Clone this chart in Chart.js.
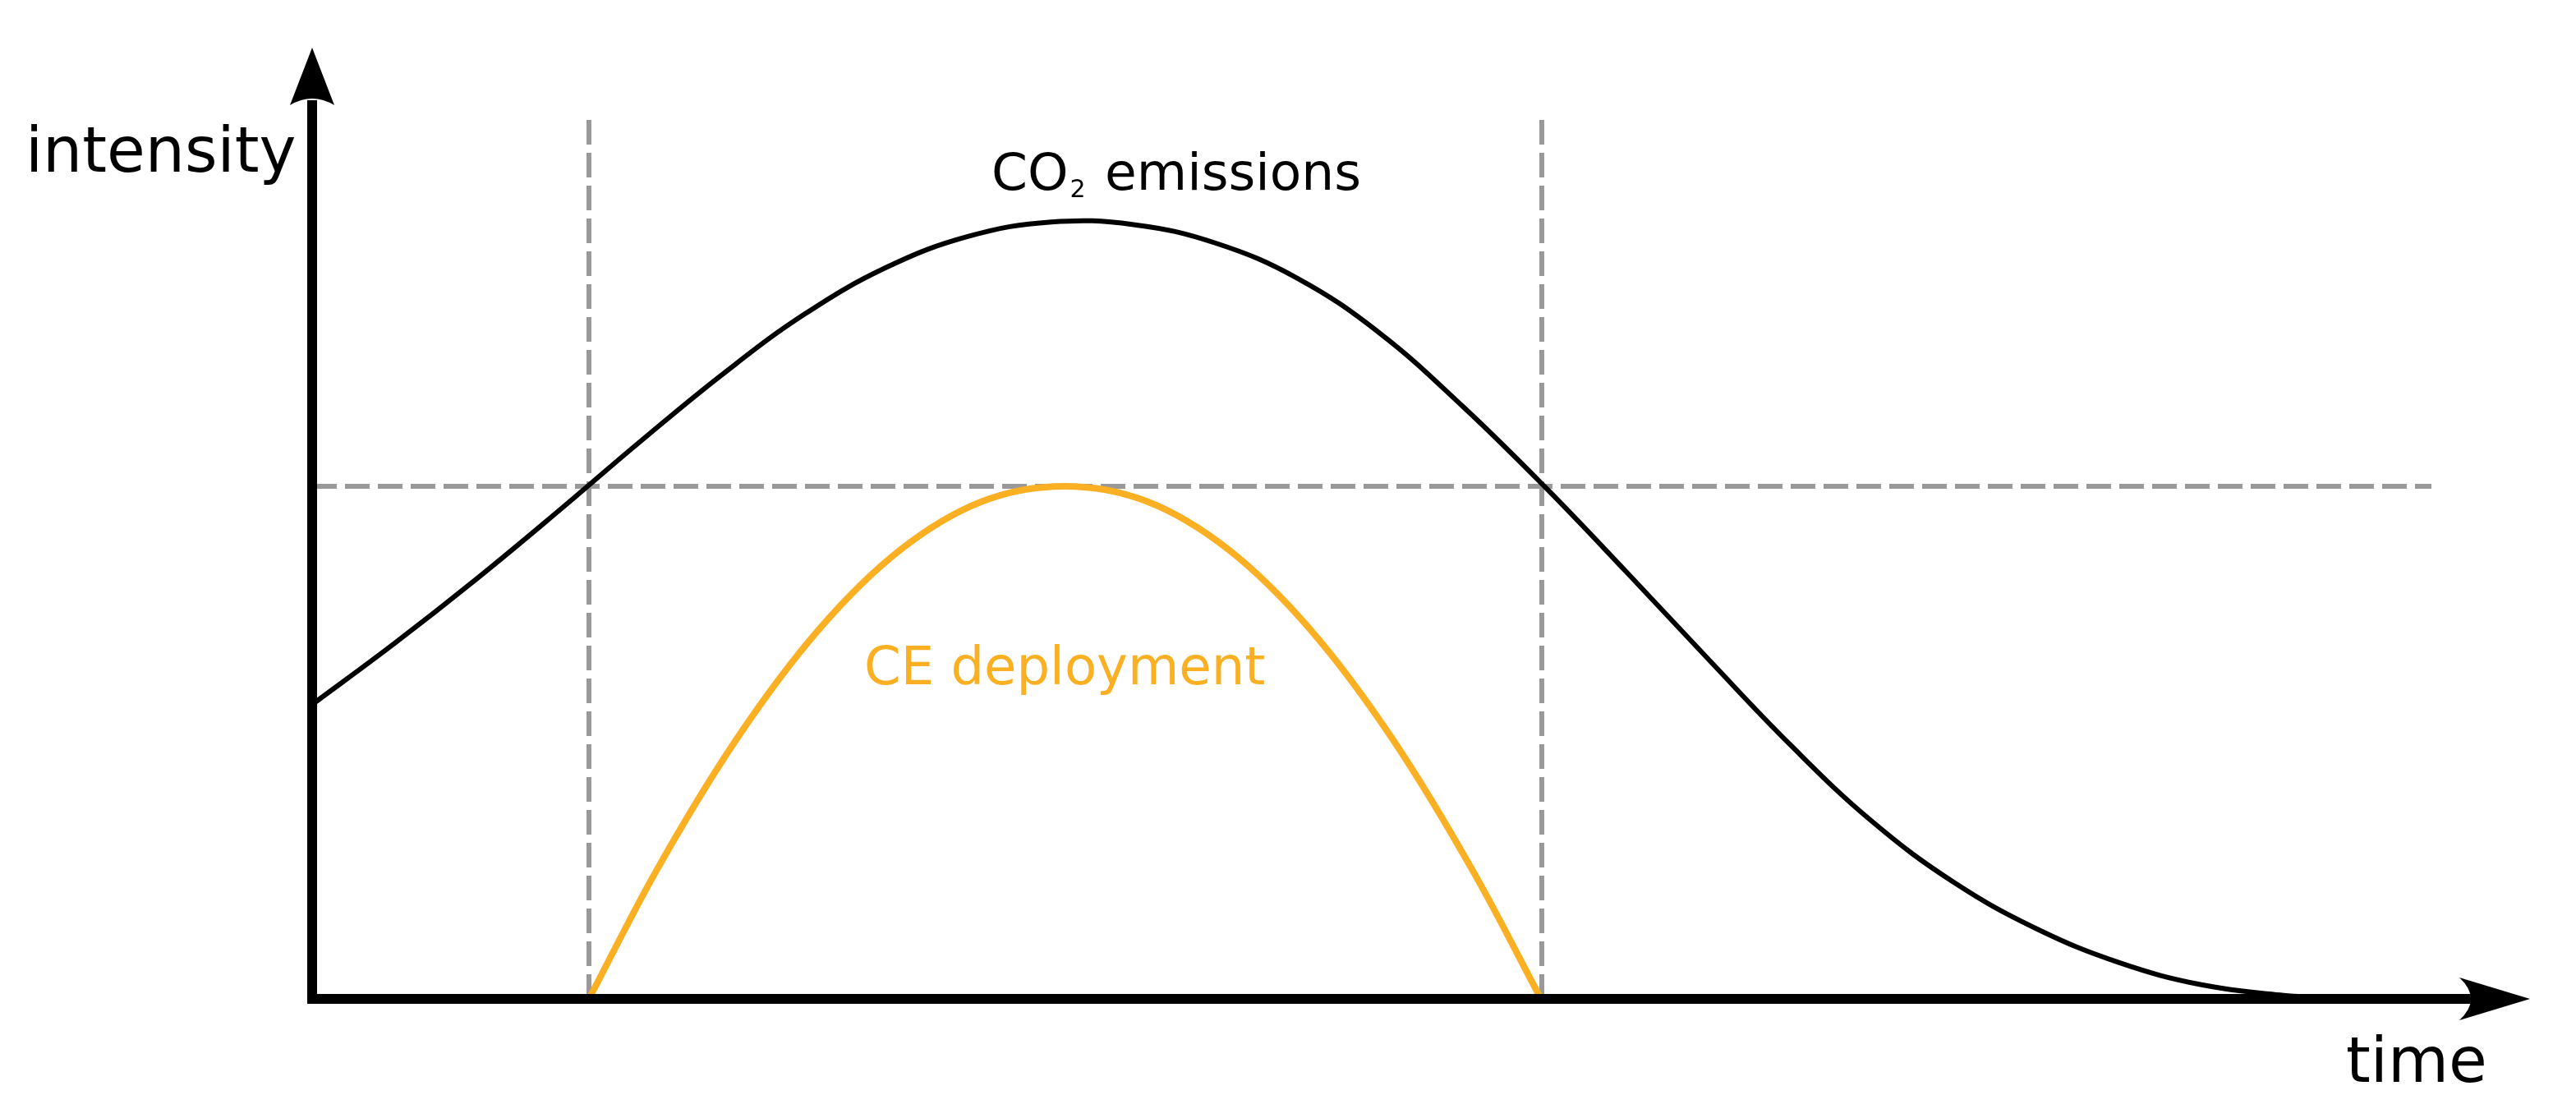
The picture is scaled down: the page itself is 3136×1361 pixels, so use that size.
<!DOCTYPE html>
<html>
<head>
<meta charset="utf-8">
<script src="https://cdn.jsdelivr.net/npm/chart.js@4.4.1/dist/chart.umd.min.js"></script>
<style>
  html, body { margin: 0; padding: 0; background: #fff; }
  #wrap { position: relative; width: 3136px; height: 1361px; }
</style>
</head>
<body>
<div id="wrap"><canvas id="chart"></canvas></div>
<script>
// CO2 emissions curve (time, intensity)
const emissionsTime = [0, 1, 2, 3, 4, 5, 6, 7, 8, 9, 10, 11, 12, 13, 14, 15, 16, 17, 18, 19, 20, 21, 22, 23, 24, 24.6]
const emissionsValue = [3.33, 4.02, 4.75, 5.52, 6.31, 7.07, 7.75, 8.28, 8.63, 8.79, 8.76, 8.55, 8.15, 7.53, 6.71, 5.80, 4.83, 3.84, 2.87, 2.00, 1.31, 0.79, 0.41, 0.16, 0.04, 0.01]

// CE deployment curve
const deploymentTime = [3.37, 4.16, 5.16, 6.16, 7.16, 8.16, 9.16, 10.16, 11.16, 12.16, 13.16, 14.16, 14.96]
const deploymentValue = [0, 1.40, 2.93, 4.17, 5.08, 5.63, 5.80, 5.63, 5.08, 4.17, 2.93, 1.40, 0]

// reference lines
const thresholdLevel = 5.80
const deploymentStart = 3.37
const deploymentEnd = 14.97
const thresholdEnd = 25.8

const xMax = 26
const yMax = 10

const toPoints = (xs, ys) => xs.map((x, i) => ({ x: x, y: ys[i] }))

const grey = '#999999'
const orange = '#fbb024'
const dash = [30, 10]

// axes with arrow heads + text labels
const annotate = {
  id: 'annotate',
  afterDatasetsDraw(chart) {
    const { ctx, chartArea } = chart
    const x0 = chartArea.left
    const y0 = chartArea.bottom
    ctx.save()
    ctx.fillStyle = '#000'
    ctx.strokeStyle = '#000'
    ctx.lineWidth = 12
    ctx.lineCap = 'butt'
    // y axis
    ctx.beginPath()
    ctx.moveTo(x0, y0 + 6)
    ctx.lineTo(x0, 122)
    ctx.stroke()
    // x axis
    ctx.beginPath()
    ctx.moveTo(x0 - 6, y0)
    ctx.lineTo(3013, y0)
    ctx.stroke()
    // arrow heads
    ctx.beginPath()
    ctx.moveTo(x0, 58)
    ctx.lineTo(x0 + 27, 128)
    ctx.quadraticCurveTo(x0, 112, x0 - 27, 128)
    ctx.closePath()
    ctx.fill()
    ctx.beginPath()
    ctx.moveTo(3080, y0)
    ctx.lineTo(2994, y0 + 26)
    ctx.quadraticCurveTo(3022, y0, 2994, y0 - 26)
    ctx.closePath()
    ctx.fill()

    // labels
    ctx.textBaseline = 'alphabetic'
    ctx.textAlign = 'left'
    ctx.font = '76px "DejaVu Sans"'
    ctx.fillText('intensity', 31, 209)
    ctx.fillText('time', 2856, 1317)

    ctx.font = '63px "DejaVu Sans"'
    ctx.fillText('CO', 1207, 231)
    let w = ctx.measureText('CO').width
    ctx.font = '30px "DejaVu Sans"'
    ctx.fillText('2', 1207 + w + 2, 240)
    ctx.font = '63px "DejaVu Sans"'
    ctx.fillText('emissions', 1345, 231)

    ctx.fillStyle = orange
    ctx.font = '64px "DejaVu Sans"'
    ctx.fillText('CE deployment', 1052, 833)
    ctx.restore()
  }
}

const curve = (label, xs, ys, color, width, smooth) => ({
  label: label,
  data: toPoints(xs, ys),
  borderColor: color,
  borderWidth: width,
  ...smooth,
  pointRadius: 0,
  clip: false,
  order: 1,
})

const refLine = (label, pts) => ({
  label: label,
  data: pts,
  borderColor: grey,
  borderWidth: 6,
  borderDash: dash,
  pointRadius: 0,
  tension: 0,
  clip: false,
  order: 3,
})

new Chart(document.getElementById('chart'), {
  type: 'line',
  data: {
    datasets: [
      curve('CO2 emissions', emissionsTime, emissionsValue, '#000', 6, { tension: 0.4 }),
      curve('CE deployment', deploymentTime, deploymentValue, orange, 8, { cubicInterpolationMode: 'monotone' }),
      refLine('threshold', [{ x: 0, y: thresholdLevel }, { x: thresholdEnd, y: thresholdLevel }]),
      refLine('start', [{ x: deploymentStart, y: 0 }, { x: deploymentStart, y: yMax }]),
      refLine('end', [{ x: deploymentEnd, y: 0 }, { x: deploymentEnd, y: yMax }]),
    ],
  },
  options: {
    responsive: true,
    maintainAspectRatio: false,
    animation: false,
    layout: { padding: { left: 380, right: 156, top: 140, bottom: 145 } },
    scales: {
      x: { type: 'linear', min: 0, max: xMax, display: false },
      y: { type: 'linear', min: 0, max: yMax, display: false },
    },
    plugins: {
      legend: { display: false },
      tooltip: { enabled: false },
    },
  },
  plugins: [annotate],
})
</script>
</body>
</html>
